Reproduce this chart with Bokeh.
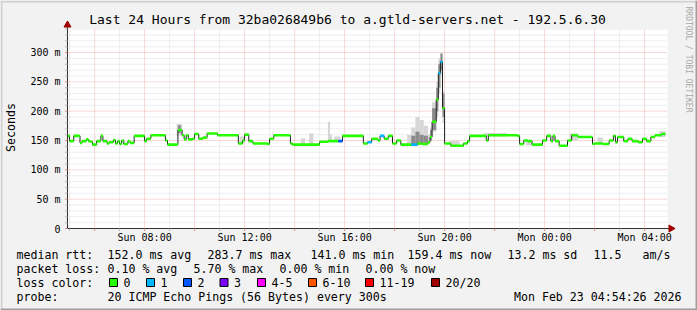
import math
from bokeh.plotting import figure
from bokeh.models import Range1d
from bokeh.core.properties import value
from bokeh.embed import file_html
from bokeh.resources import INLINE

# ---------------- data (x = minutes after Sun 04:55, window = last 24 h; y = ms) -------------
seg_start = [0, 5, 15, 30, 35, 45, 50, 55, 60, 70, 80, 85, 95, 100, 110, 115, 120, 125, 130, 135,
             145, 150, 160, 185, 190, 200, 235, 240, 265, 275, 280, 285, 290, 300, 305, 315, 325, 335,
             360, 410, 420, 425, 435, 445, 480, 485, 495, 535, 540, 605, 625, 650, 660, 710, 720, 730,
             745, 750, 760, 770, 780, 790, 800, 825, 840, 850, 865, 870, 875, 885, 890, 895, 900, 905,
             920, 950, 960, 965, 1005, 1010, 1080, 1085, 1095, 1105, 1115, 1140, 1150, 1160, 1165,
             1170, 1180, 1200, 1210, 1225, 1260, 1265, 1285, 1300, 1310, 1315, 1320, 1335, 1345, 1355,
             1370, 1380, 1390, 1400, 1410, 1425]
median_ms = [158, 149, 158, 146, 149, 152, 149, 148, 143, 149, 158, 149, 145, 147, 151, 145, 149, 144, 150, 144,
             149, 146, 158, 149, 153, 159, 150, 143, 168, 159, 152, 159, 152, 153, 161, 153, 155, 162,
             159, 145, 150, 160, 149, 145, 144, 153, 159, 145, 143, 148, 149, 149, 158, 145, 147, 153,
             150, 158, 153, 158, 145, 150, 143, 143, 145, 144, 147, 156, 182, 220, 265, 284, 205, 145,
             141, 145, 149, 158, 150, 159, 158, 144, 150, 149, 143, 150, 158, 149, 158,
             149, 141, 150, 159, 156, 144, 145, 144, 150, 158, 147, 156, 149, 153, 149,
             147, 153, 149, 156, 159, 161]
data_end = 1435
loss_at = [650, 720, 750, 825, 890, 895]      # segments with lost pings
loss_count = [2, 1, 1, 1, 1, 1]

# smoke (spread of the 20 pings)
light_start = [262, 413, 560, 580, 625, 630, 640, 815, 825, 835, 845, 855, 865, 870, 875, 885, 890, 895, 900,
               917, 1000, 1100, 1205, 1272, 1420]
light_end = [275, 425, 570, 590, 630, 635, 655, 825, 835, 845, 855, 865, 870, 875, 885, 890, 895, 900, 905,
             941, 1055, 1115, 1225, 1285, 1435]
light_lo = [158, 145, 143, 143, 148, 148, 149, 143, 142, 142, 143, 144, 146, 150, 165, 190, 230, 260, 180,
            141, 157, 142, 150, 144, 156]
light_hi = [178, 157, 154, 162, 182, 160, 157, 160, 172, 190, 185, 175, 160, 172, 215, 250, 290, 300, 235,
            149, 163, 149, 162, 155, 166]
dark_start = [265, 825, 835, 845, 855, 870, 875, 885, 890, 895, 900]
dark_end = [272, 835, 845, 855, 865, 875, 885, 890, 895, 900, 905]
dark_lo = [163, 143, 143, 144, 146, 150, 168, 200, 240, 270, 190]
dark_hi = [176, 158, 165, 160, 158, 168, 205, 240, 280, 298, 230]

loss_labels = ["0", "1", "2", "3", "4-5", "6-10", "11-19", "20/20"]
loss_colors = ["#26ff00", "#00b8ff", "#0059ff", "#7e00ff", "#ff00ff", "#ff5500", "#ff0000", "#a10000"]

x_label_ticks = [185, 425, 665, 905, 1145, 1385]
x_label_text = ["Sun 08:00", "Sun 12:00", "Sun 16:00", "Sun 20:00", "Mon 00:00", "Mon 04:00"]
x_major = [65 + 120 * i for i in range(12)]
x_minor = [5 + 120 * i for i in range(12)]
y_ticks = [0, 50, 100, 150, 200, 250, 300]
y_tick_text = ["0", "50 m", "100 m", "150 m", "200 m", "250 m", "300 m"]
y_minor = [v for v in range(10, 341, 10) if v % 50]
X_MAX, Y_MAX = 1440, 341

title = "Last 24 Hours from 32ba026849b6 to a.gtld-servers.net - 192.5.6.30"
legend_text = ["median rtt:", "152.0 ms avg", "283.7 ms max", "141.0 ms min", "159.4 ms now",
               "13.2 ms sd", "11.5", "am/s",
               "packet loss:", "0.10 % avg", "5.70 % max", "0.00 % min", "0.00 % now",
               "loss color:",
               "probe:", "20 ICMP Echo Pings (56 Bytes) every 300s"]
stamp = "Mon Feb 23 04:54:26 2026"

# ---------------- layout (pixels on the 697x310 canvas) ----------------
W, H = 697, 310
FL, FT, FR, FB = 67, 28, 667, 228          # plot area
KX = X_MAX / (FR - FL)                     # minutes per pixel
KY = Y_MAX / (FB - FT)                     # ms per pixel
MONO = "DejaVu Sans Mono"

legend_x = [16, 107, 207, 310, 407, 507, 593, 642,
            16, 107, 193, 279, 365,
            16,
            16, 107]
legend_y = [254] * 8 + [268] * 5 + [282] + [296] * 2
box_x = [109, 146, 183, 219.5, 257, 308, 365, 431]

p = figure(width=W, height=H, output_backend="svg", toolbar_location=None,
           x_axis_location=None, y_axis_location=None,
           x_range=Range1d(-FL * KX, X_MAX + (W - FR) * KX),
           y_range=Range1d(-(H - FB) * KY, Y_MAX + FT * KY),
           min_border=0, min_border_left=0, min_border_right=0, min_border_top=0, min_border_bottom=0,
           background_fill_color="#f2f2f2", border_fill_color="#f2f2f2", outline_line_color=None)
p.xgrid.visible = False
p.ygrid.visible = False
p.extra_x_ranges = {"px": Range1d(0, W)}
p.extra_y_ranges = {"px": Range1d(H, 0)}
PX = dict(x_range_name="px", y_range_name="px")

# white canvas of the graph
p.quad(left=[0], right=[X_MAX], bottom=[0], top=[Y_MAX], fill_color="white", line_color=None)

# grid
p.segment(x0=x_minor, x1=x_minor, y0=[0] * len(x_minor), y1=[Y_MAX] * len(x_minor),
          line_color="#dcdcdc", line_dash="1 1", line_width=1)
p.segment(x0=[0] * len(y_minor), x1=[X_MAX] * len(y_minor), y0=y_minor, y1=y_minor,
          line_color="#dcdcdc", line_dash="1 1", line_width=1)
p.segment(x0=x_major, x1=x_major, y0=[0] * len(x_major), y1=[Y_MAX] * len(x_major),
          line_color="#f4b0b0", line_dash="1 1", line_width=1)
p.segment(x0=[0] * 6, x1=[X_MAX] * 6, y0=y_ticks[1:], y1=y_ticks[1:],
          line_color="#f4b0b0", line_dash="1 1", line_width=1)

# smoke
p.quad(left=light_start, right=light_end, bottom=light_lo, top=light_hi,
       fill_color="#d6d6d6", line_color=None)
p.quad(left=dark_start, right=dark_end, bottom=dark_lo, top=dark_hi,
       fill_color="#8c8c8c", line_color=None)

# median line (black step underneath, loss-coloured bars on top)
p.step(seg_start + [data_end], median_ms + [median_ms[-1]], mode="after",
       line_color="#202020", line_width=1)
seg_end = seg_start[1:] + [data_end]
bar_col = [loss_colors[loss_count[loss_at.index(s)]] if s in loss_at else loss_colors[0]
           for s in seg_start]
half = 1.3 * KY
p.quad(left=seg_start, right=seg_end,
       bottom=[v - half for v in median_ms], top=[v + half for v in median_ms],
       fill_color=bar_col, line_color=None)

# axes, ticks, arrows
tick = 2.5
p.segment(x0=[0, 0], y0=[0, 0], x1=[0, X_MAX + 5 * KX], y1=[Y_MAX + 5 * KY, 0],
          line_color="#303030", line_width=1)
p.segment(x0=x_major, x1=x_major, y0=[0] * len(x_major), y1=[-tick * KY] * len(x_major),
          line_color="#e08a8a")
p.segment(x0=x_minor, x1=x_minor, y0=[0] * len(x_minor), y1=[-tick * KY] * len(x_minor),
          line_color="#b8b8b8")
p.segment(x0=[0] * len(y_ticks), x1=[-tick * KX] * len(y_ticks), y0=y_ticks, y1=y_ticks,
          line_color="#e08a8a")
p.segment(x0=[0] * len(y_minor), x1=[-tick * KX] * len(y_minor), y0=y_minor, y1=y_minor,
          line_color="#b8b8b8")
p.scatter(x=[0], y=[Y_MAX + 3.5 * KY], marker="triangle", size=7,
          fill_color="#a00000", line_color="#a00000")
p.scatter(x=[X_MAX + 3.5 * KX], y=[0], marker="triangle", size=7, angle=-math.pi / 2,
          fill_color="#a00000", line_color="#a00000")

# tick labels
p.text(x=x_label_ticks, y=[0] * len(x_label_ticks), text=x_label_text, y_offset=9,
       text_font=value(MONO), text_font_size="10px", text_align="center", text_baseline="middle",
       text_color="black")
p.text(x=[0] * len(y_ticks), y=y_ticks, text=y_tick_text, x_offset=-7,
       text_font=value(MONO), text_font_size="10px", text_align="right", text_baseline="middle",
       text_color="black")

# title, axis title, watermark
p.text(x=[347], y=[19], text=[title], text_font=value(MONO), text_font_size="13px",
       text_align="center", text_baseline="middle", text_color="black", **PX)
p.text(x=[10], y=[127], text=["Seconds"], angle=math.pi / 2, text_font=value(MONO),
       text_font_size="11.6px", text_align="center", text_baseline="middle", text_color="black", **PX)
p.text(x=[688], y=[59], text=["RRDTOOL / TOBI OETIKER"], angle=-math.pi / 2, text_font=value(MONO),
       text_font_size="8px", text_align="center", text_baseline="middle", text_color="#a8a8a8", **PX)

# legend
p.text(x=legend_x, y=legend_y, text=legend_text, text_font=value(MONO), text_font_size="11.6px",
       text_align="left", text_baseline="middle", text_color="black", **PX)
p.text(x=[681], y=[296], text=[stamp], text_font=value(MONO), text_font_size="11.6px",
       text_align="right", text_baseline="middle", text_color="black", **PX)
p.quad(left=box_x, right=[b + 8 for b in box_x], top=[278] * 8, bottom=[286] * 8,
       fill_color=loss_colors, line_color="black", line_width=1, **PX)
p.text(x=[b + 14 for b in box_x], y=[282] * 8, text=loss_labels, text_font=value(MONO),
       text_font_size="11.6px", text_align="left", text_baseline="middle", text_color="black", **PX)

# 3-D frame of the image
p.quad(left=[0, 0], right=[W, 2], top=[0, 0], bottom=[2, H], fill_color="#d0d0d0", line_color=None, **PX)
p.quad(left=[0, W - 2], right=[W, W], top=[H - 2, 0], bottom=[H, H], fill_color="#9e9e9e",
       line_color=None, **PX)

open("out.html", "w").write(file_html(p, INLINE))
